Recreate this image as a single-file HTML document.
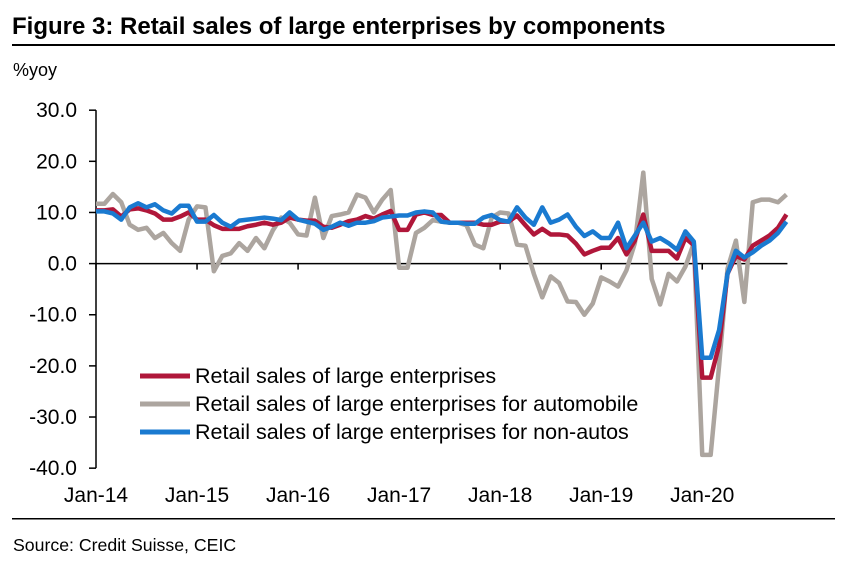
<!DOCTYPE html>
<html><head><meta charset="utf-8"><style>
body{margin:0;background:#fff;font-family:"Liberation Sans",Arial,sans-serif;}
svg text{font-family:"Liberation Sans",Arial,sans-serif;}
</style></head><body>
<svg width="845" height="562" viewBox="0 0 845 562">
<text x="12" y="34" font-size="24" font-weight="bold" fill="#000">Figure 3: Retail sales of large enterprises by components</text>
<rect x="12" y="44" width="823" height="2" fill="#000"/>
<text x="13" y="76" font-size="18" fill="#000">%yoy</text>
<g id="axes"></g>
<g id="series"></g>
<g id="legend"></g>
<rect x="12" y="518" width="823" height="1.5" fill="#000"/>
<text x="13" y="551" font-size="17.7" fill="#000">Source: Credit Suisse, CEIC</text>
</svg>
<script>
const yTicks=[30,20,10,0,-10,-20,-30,-40];
const xLabels=["Jan-14","Jan-15","Jan-16","Jan-17","Jan-18","Jan-19","Jan-20"];
const seriesNames=["Retail sales of large enterprises","Retail sales of large enterprises for automobile","Retail sales of large enterprises for non-autos"];
const total=[
10.4,10.4,10.6,9.2,10.6,10.8,10.4,9.8,8.6,8.6,9.2,10,
8.6,8.6,7.5,6.8,6.8,6.8,7.3,7.6,8,7.6,8,9,
8.6,8.4,8.4,7.2,7,7.6,8.3,8.6,9.3,8.8,9.6,10.3,
6.6,6.6,9.6,10,9.5,9.5,8,8,8,8,7.6,7.6,
8.2,8.2,9.4,7.5,5.7,6.8,5.7,5.7,5.5,3.9,1.8,2.5,
3.1,3.1,5,1.8,4.5,9.6,2.5,2.5,2.5,1,5,3.6,
-22.3,-22.3,-16,-2,1.5,0.8,3.5,4.5,5.5,7,9.6];
const auto=[
11.7,11.7,13.6,12,7.6,6.6,7,5,6,4,2.5,8.6,
11.2,11,-1.5,1.5,2,4,2.5,5,3,6.5,9,8,
5.7,5.5,12.9,5,9.3,9.6,10,13.5,12.9,10,12.5,14.4,
-0.8,-0.8,6,7,8.5,8.2,8,8,7.5,3.7,3,9,
10,9.8,3.7,3.5,-2,-6.6,-2.5,-3.8,-7.4,-7.5,-10,-7.8,
-2.7,-3.5,-4.5,-1.3,4,17.8,-3,-8,-2,-3.5,-0.6,4,
-37.4,-37.4,-20,-1,4.5,-7.5,12,12.5,12.5,12,13.5];
const nonAuto=[
10.2,10.2,9.8,8.6,11,11.8,11,11.6,10.4,9.8,11.3,11.3,
8.2,8.2,9.5,8,7.2,8.4,8.6,8.8,9,8.8,8.5,10,
8.6,8.2,7.8,6.6,7.2,8,7.4,8,8,8.3,9,9.2,
9.4,9.4,10,10.2,10,8.2,8,8,7.8,7.8,9,9.5,
8.5,8.2,11,9,7.6,11,8,8.6,9.6,7.2,5.4,6.3,
5,5,8,3,5.5,8,4.3,5,4,2.7,6.3,4.3,
-18.4,-18.4,-13,-2,2.5,1.2,2.2,3.5,4.5,6,8.2];
const X0=96,MW=8.42,Y0=263.6,YU=5.114;
function xs(i){return X0+i*MW;}
function ys(v){return Y0-v*YU;}
const NS="http://www.w3.org/2000/svg";
function mk(tag,attrs,parent){const e=document.createElementNS(NS,tag);for(const k in attrs)e.setAttribute(k,attrs[k]);parent.appendChild(e);return e;}
const ax=document.getElementById('axes');
const yax=mk('line',{x1:X0,y1:ys(30),x2:X0,y2:ys(-40),stroke:'#000','stroke-width':1.5},ax);


yTicks.forEach(v=>{
 const t=mk('line',{x1:X0-7,y1:ys(v),x2:X0,y2:ys(v),stroke:'#000','stroke-width':1.5},ax);
 
 
 const l=mk('text',{x:77,y:ys(v)+7,'font-size':21,'text-anchor':'end',fill:'#000'},ax);
 l.textContent=v.toFixed(1);
 
 
});
const n=total.length;
const xax=mk('line',{x1:X0,y1:Y0,x2:xs(n-1)+1,y2:Y0,stroke:'#000','stroke-width':1.5},ax);


xLabels.forEach((s,k)=>{
 const x=xs(k*12);
 const t=mk('line',{x1:x,y1:Y0,x2:x,y2:Y0+6,stroke:'#000','stroke-width':1.5},ax);
 
 
 const l=mk('text',{x:x,y:502,'font-size':21,'text-anchor':'middle',fill:'#000'},ax);
 l.textContent=s;
 
 
});
const sg=document.getElementById('series');
function line(arr,color,name){
 const p=mk('polyline',{points:arr.map((v,i)=>xs(i)+','+ys(v)).join(' '),fill:'none',stroke:color,'stroke-width':4.5,'stroke-linejoin':'round'},sg);
 
 
}
line(auto,'#aca59f','auto-line');
line(total,'#b0173a','total-line');
line(nonAuto,'#1a7ad0','non-auto-line');
const lg=document.getElementById('legend');
const cols=['#b0173a','#aca59f','#1a7ad0'];
seriesNames.forEach((s,k)=>{
 const y=376+k*28;
 const l=mk('line',{x1:140,y1:y,x2:190,y2:y,stroke:cols[k],'stroke-width':5},lg);
 
 
 const t=mk('text',{x:195,y:y+7,'font-size':21.5,fill:'#000'},lg);
 t.textContent=s;
 
 
});
</script>
</body></html>
